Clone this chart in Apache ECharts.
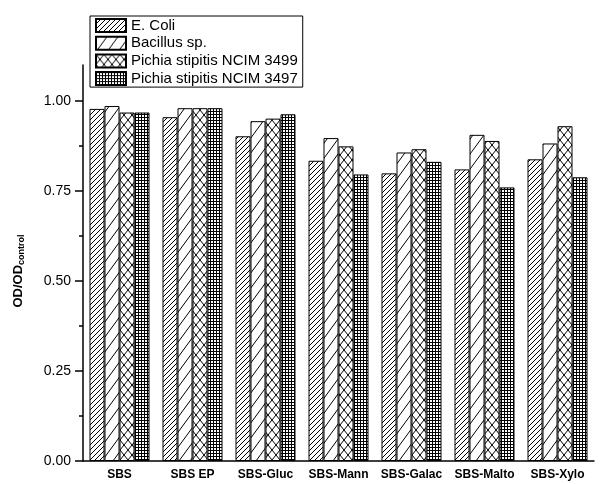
<!DOCTYPE html>
<html>
<head>
<meta charset="utf-8">
<script src="https://cdn.jsdelivr.net/npm/echarts@6/dist/echarts.min.js"></script>
<style>html,body{margin:0;padding:0;background:#fff}#c{width:607px;height:484px}</style>
</head>
<body>
<div id="c"></div>
<script>
var categories = ['SBS', 'SBS EP', 'SBS-Gluc', 'SBS-Mann', 'SBS-Galac', 'SBS-Malto', 'SBS-Xylo'];
var seriesNames = ['E. Coli', 'Bacillus sp.', 'Pichia stipitis NCIM 3499', 'Pichia stipitis NCIM 3497'];
var eColi     = [0.978, 0.955, 0.902, 0.834, 0.799, 0.810, 0.838];
var bacillus  = [0.986, 0.980, 0.944, 0.897, 0.857, 0.906, 0.882];
var pichia3499 = [0.968, 0.980, 0.951, 0.874, 0.866, 0.889, 0.930];
var pichia3497 = [0.968, 0.980, 0.963, 0.796, 0.831, 0.760, 0.788];
var yTicks = [0, 0.25, 0.5, 0.75, 1.0];
var yMinorTicks = [0.125, 0.375, 0.625, 0.875];

var FONT = "'Liberation Sans', Arial, sans-serif";

function tile(w, h, draw) {
  var c = document.createElement('canvas');
  c.width = w; c.height = h;
  var g = c.getContext('2d');
  g.fillStyle = '#fff'; g.fillRect(0, 0, w, h);
  g.strokeStyle = '#000'; g.lineWidth = 1;
  draw(g, w, h);
  return { image: c, repeat: 'repeat' };
}
function diag(g, w, h, dir) {
  for (var k = -1; k <= 1; k++) {
    g.beginPath();
    if (dir > 0) { g.moveTo(k * w, h); g.lineTo(k * w + w, 0); }
    else { g.moveTo(k * w, 0); g.lineTo(k * w + w, h); }
    g.stroke();
  }
}
var patterns = [
  tile(5, 5, function (g, w, h) { diag(g, w, h, 1); }),
  tile(11, 15, function (g, w, h) { diag(g, w, h, 1); }),
  tile(8, 10, function (g, w, h) { diag(g, w, h, 1); diag(g, w, h, -1); }),
  tile(3, 3, function (g, w, h) {
    g.beginPath(); g.moveTo(0.5, 0); g.lineTo(0.5, h); g.stroke();
    g.beginPath(); g.moveTo(0, 0.5); g.lineTo(w, 0.5); g.stroke();
  })
];
var dataSets = [eColi, bacillus, pichia3499, pichia3497];

var chart = echarts.init(document.getElementById('c'), null, { renderer: 'canvas' });
chart.setOption({
  animation: false,
  backgroundColor: '#fff',
  grid: { left: 83, right: 13, top: 65, bottom: 23 },
  legend: {
    orient: 'vertical',
    left: 90, top: 16,
    padding: [2, 5, 1, 5],
    itemWidth: 30, itemHeight: 13, itemGap: 2.7,
    icon: 'rect',
    borderColor: '#000', borderWidth: 1,
    textStyle: { fontFamily: FONT, fontSize: 15, color: '#000', lineHeight: 14 },
    data: seriesNames
  },
  xAxis: [{
    type: 'category',
    data: categories,
    axisLine: { lineStyle: { color: '#000', width: 1.5 } },
    axisTick: { alignWithLabel: true, length: 7, lineStyle: { color: '#000', width: 1.5 } },
    axisLabel: { interval: 0, hideOverlap: false, fontFamily: FONT, fontSize: 12, fontWeight: 'bold', color: '#000', margin: 8 },
    splitLine: { show: false }
  }, {
    type: 'category',
    data: categories,
    position: 'bottom',
    axisLine: { show: false },
    axisTick: { interval: 0, length: 3, lineStyle: { color: '#000', width: 1.5 } },
    axisLabel: { show: false },
    splitLine: { show: false }
  }],
  yAxis: [{
    type: 'value',
    min: 0, max: 1.1,
    axisLine: { show: true, lineStyle: { color: '#000', width: 1.5 } },
    axisTick: { show: true, length: 8, customValues: yTicks, lineStyle: { color: '#000', width: 1.5 } },
    axisLabel: {
      customValues: yTicks, fontFamily: FONT, fontSize: 14, color: '#000', margin: 12,
      formatter: function (v) { return v.toFixed(2); }
    },
    splitLine: { show: false },
    name: '{a|OD/OD}{b|control}',
    nameLocation: 'middle',
    nameGap: 57,
    nameRotate: 90,
    nameTextStyle: {
      padding: [0, 16, 0, 0],
      rich: {
        a: { fontFamily: FONT, fontSize: 13, fontWeight: 'bold', color: '#000', lineHeight: 16 },
        b: { fontFamily: FONT, fontSize: 9, fontWeight: 'bold', color: '#000', verticalAlign: 'bottom', padding: [9, 0, 0, 0], lineHeight: 16 }
      }
    }
  }, {
    type: 'value',
    min: 0, max: 1.1,
    position: 'left',
    axisLine: { show: false },
    axisTick: { show: true, length: 4, customValues: yMinorTicks, lineStyle: { color: '#000', width: 1.5 } },
    axisLabel: { show: false },
    splitLine: { show: false }
  }],
  series: seriesNames.map(function (n, i) {
    return {
      name: n,
      type: 'bar',
      xAxisIndex: 0,
      yAxisIndex: 0,
      data: dataSets[i],
      barWidth: 15,
      barGap: '0%',
      itemStyle: { color: patterns[i], borderColor: '#000', borderWidth: 1 },
      emphasis: { disabled: true }
    };
  })
});
</script>
</body>
</html>
